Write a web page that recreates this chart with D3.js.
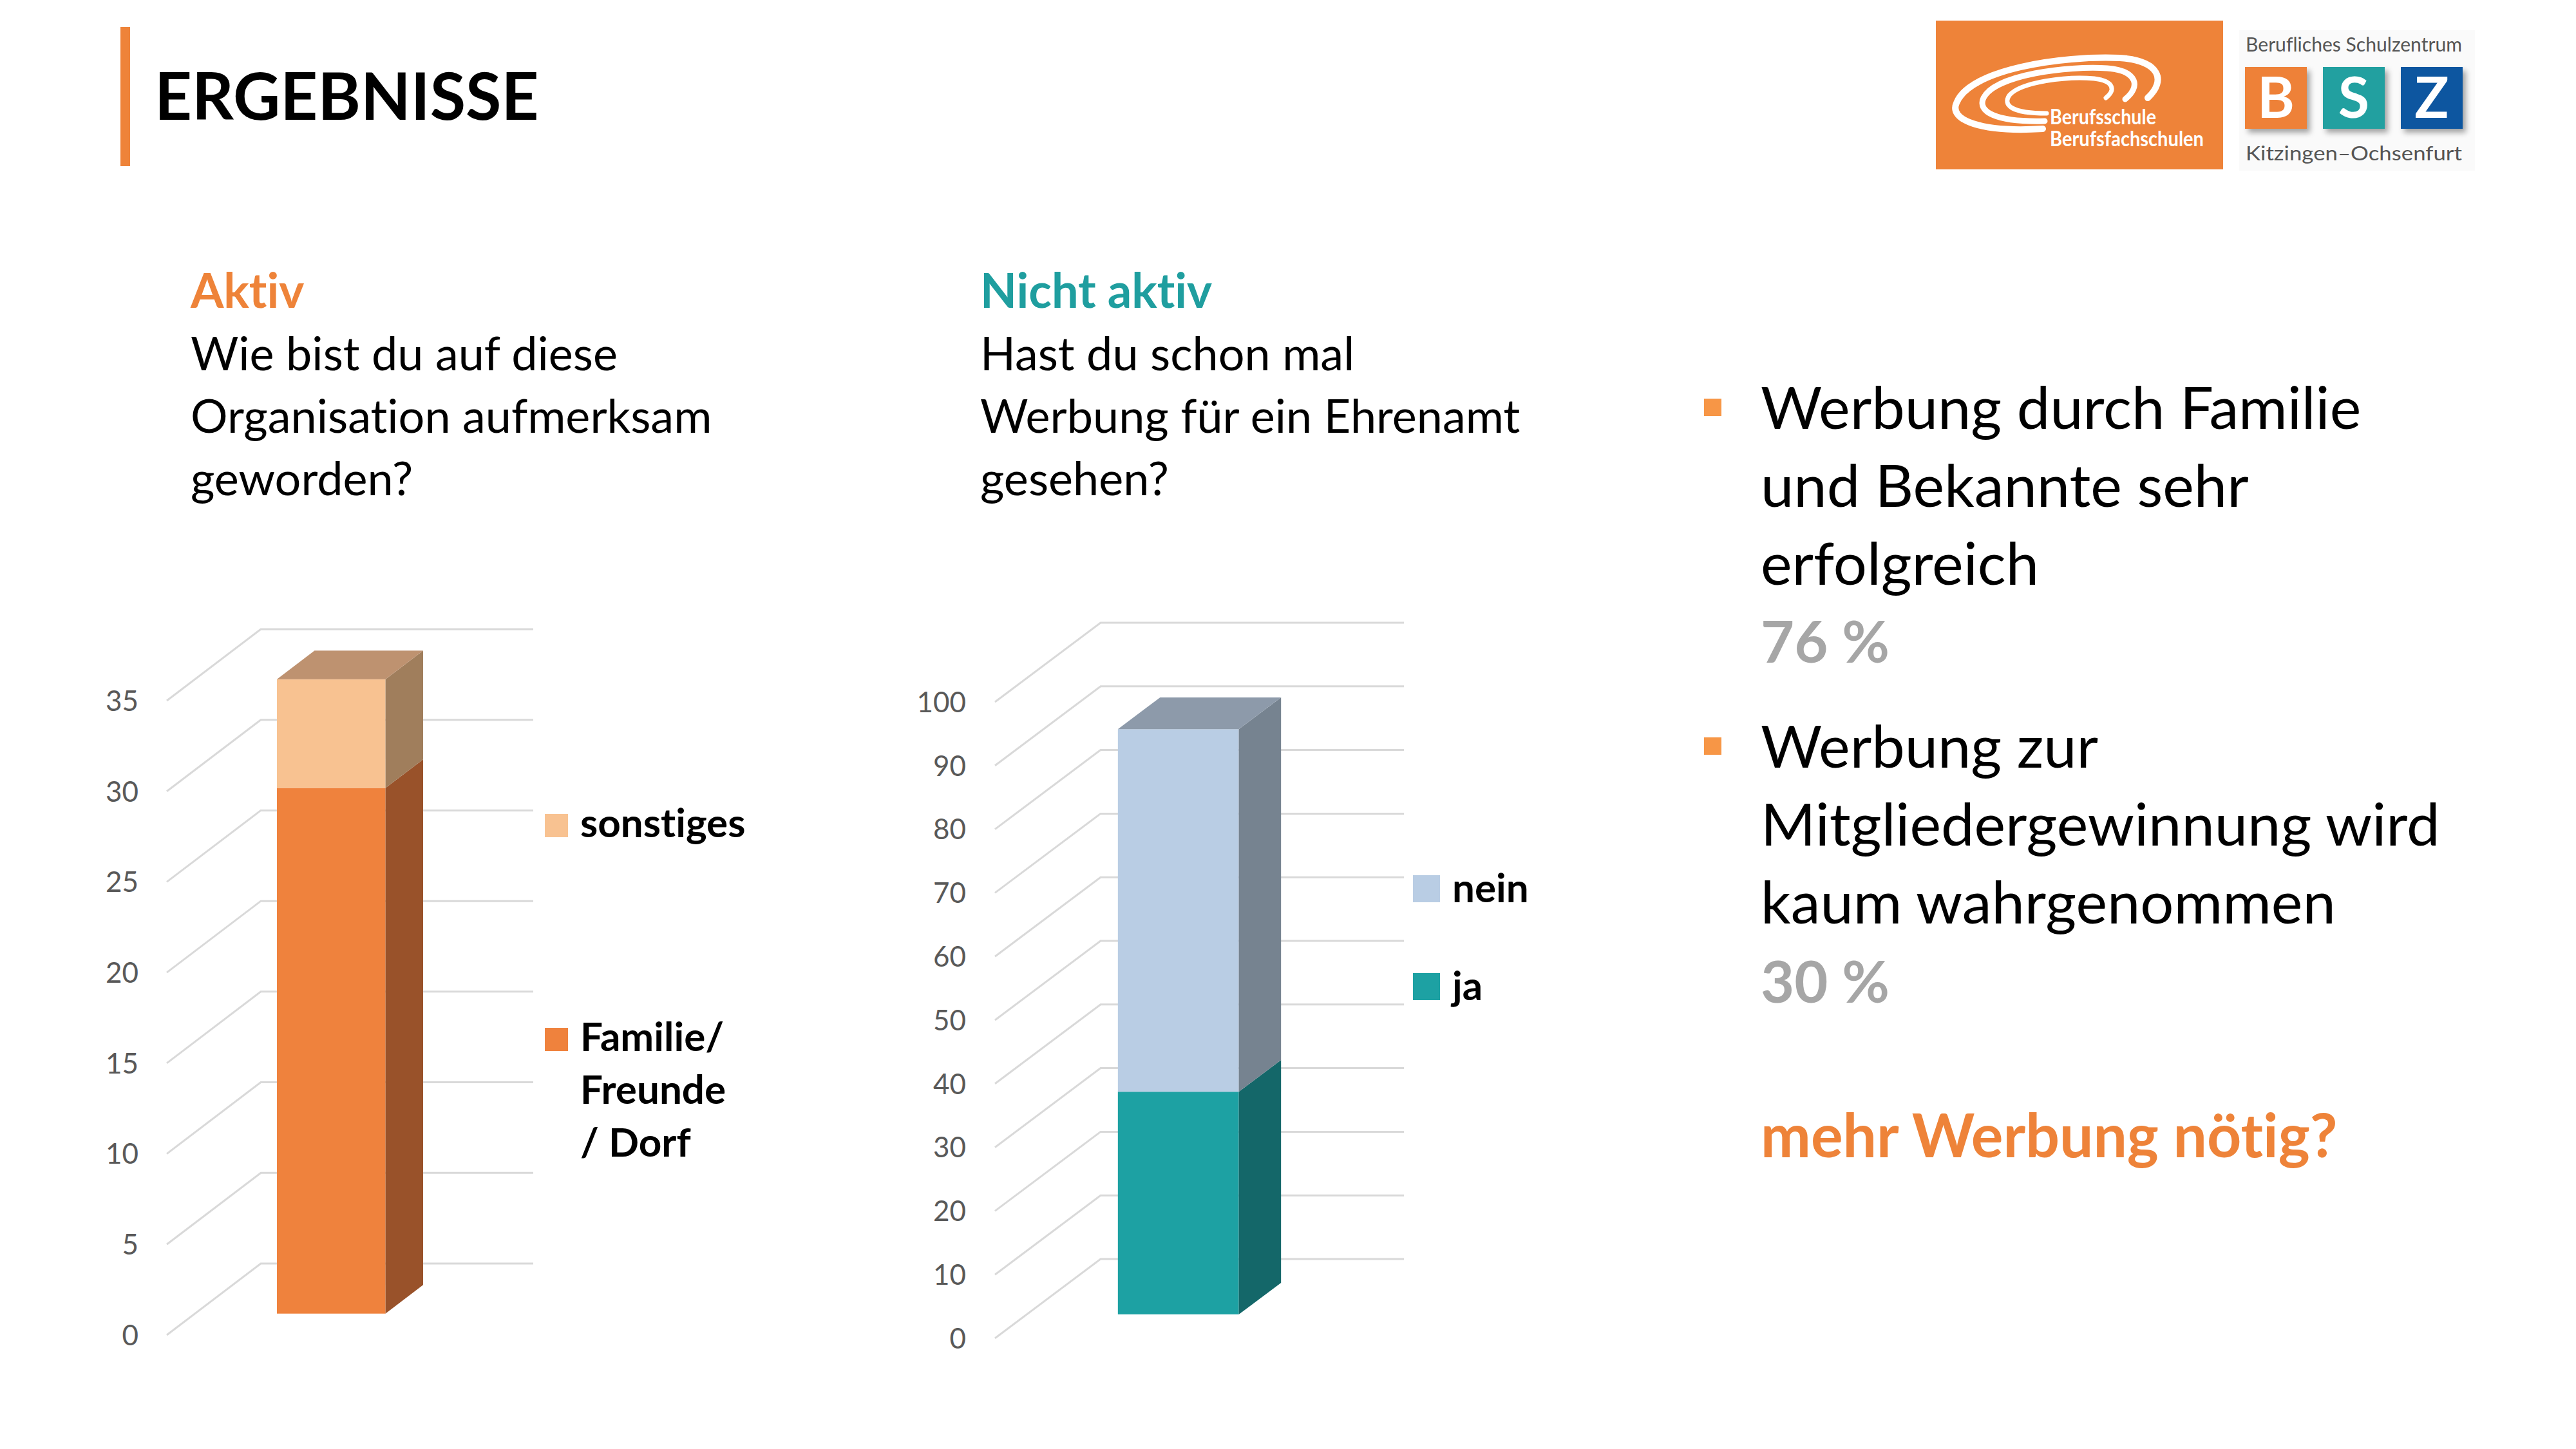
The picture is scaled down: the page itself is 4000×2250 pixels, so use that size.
<!DOCTYPE html>
<html>
<head>
<meta charset="utf-8">
<script src="https://cdn.jsdelivr.net/npm/d3@7"></script>
<style>
  body { margin: 0; background: #fff; }
  svg text { font-variant-ligatures: none; }
</style>
</head>
<body>
<script>
// survey values
const aktivKeys = ["Familie/ Freunde / Dorf", "sonstiges"];
const aktivValues = [29, 6];
const aktivTicks = [0, 5, 10, 15, 20, 25, 30, 35];
const aktivLegend = [["sonstiges"], ["Familie/", "Freunde", "/ Dorf"]];

const nichtKeys = ["ja", "nein"];
const nichtValues = [35, 57];
const nichtTicks = [0, 10, 20, 30, 40, 50, 60, 70, 80, 90, 100];
const nichtLegend = [["nein"], ["ja"]];

const aktivQuestion = ["Wie bist du auf diese", "Organisation aufmerksam", "geworden?"];
const nichtQuestion = ["Hast du schon mal", "Werbung für ein Ehrenamt", "gesehen?"];
const bullet1 = ["Werbung durch Familie", "und Bekannte sehr", "erfolgreich"];
const bullet2 = ["Werbung zur", "Mitgliedergewinnung wird", "kaum wahrgenommen"];
const percents = ["76 %", "30 %"];

const ORANGE = "#EE8339", TEAL = "#1F9E9F";
const FONT = "Lato, 'Open Sans', sans-serif";

var svg = d3.select("body").append("svg")
    .attr("width", 4000)
    .attr("height", 2250)
    .style("font-family", FONT);

// header
svg.append("rect").attr("x", 187).attr("y", 42).attr("width", 15).attr("height", 216).attr("fill", ORANGE);
svg.append("text").attr("x", 240).attr("y", 186).attr("font-size", 101).attr("font-weight", 700)
    .attr("fill", "#000").text("ERGEBNISSE");

var lines = function (x, y0, step, arr, size, color, weight) {
    arr.forEach(function (t, i) {
        svg.append("text").attr("x", x).attr("y", y0 + i * step)
            .attr("font-size", size).attr("font-weight", weight || 400)
            .attr("fill", color).text(t);
    });
};

// question headings
lines(296, 478, 97, ["Aktiv"], 74, ORANGE, 700);
lines(296, 575, 97, aktivQuestion, 72, "#000");
lines(1522, 478, 97, ["Nicht aktiv"], 74, TEAL, 700);
lines(1522, 575, 97, nichtQuestion, 72, "#000");

// right column
svg.append("rect").attr("x", 2646).attr("y", 619).attr("width", 27).attr("height", 27).attr("fill", "#F79646");
svg.append("rect").attr("x", 2646).attr("y", 1145).attr("width", 27).attr("height", 27).attr("fill", "#F79646");
lines(2734, 666, 121, bullet1, 92, "#000");
lines(2734, 1029, 121, [percents[0]], 90, "#A6A6A6", 700);
lines(2734, 1192, 121, bullet2, 92, "#000");
lines(2734, 1557, 121, [percents[1]], 90, "#A6A6A6", 700);
lines(2734, 1797, 121, ["mehr Werbung nötig?"], 93, ORANGE, 700);

// logos
var logo = svg.append("g");
logo.append("rect").attr("x", 3006).attr("y", 32).attr("width", 446).attr("height", 231).attr("fill", "#EE8339");
var swoosh = [
    "M3172,200 C3075,206 3026,186 3038,160 C3058,108 3200,86 3292,90 C3354,94 3364,125 3335,152",
    "M3175,188 C3098,190 3070,173 3080,152 C3098,116 3210,102 3272,106 C3320,110 3324,135 3300,154",
    "M3178,176 C3122,176 3110,163 3120,148 C3138,127 3210,118 3252,122 C3283,126 3285,140 3270,152"
];
logo.selectAll(".sw").data(swoosh).enter().append("path")
    .attr("d", function (d) { return d; })
    .attr("fill", "none").attr("stroke", "#fff")
    .attr("stroke-width", function (d, i) { return [10, 9, 7][i]; })
    .attr("stroke-linecap", "round");
logo.append("text").attr("x", 3183).attr("y", 193).attr("font-size", 32).attr("font-weight", 700)
    .attr("fill", "#fff").attr("textLength", 165).attr("lengthAdjust", "spacingAndGlyphs").text("Berufsschule");
logo.append("text").attr("x", 3183).attr("y", 227).attr("font-size", 32).attr("font-weight", 700)
    .attr("fill", "#fff").attr("textLength", 239).attr("lengthAdjust", "spacingAndGlyphs").text("Berufsfachschulen");

logo.append("rect").attr("x", 3477).attr("y", 47).attr("width", 366).attr("height", 218).attr("fill", "#FAFAFA");
logo.append("text").attr("x", 3487).attr("y", 80).attr("font-size", 30).attr("fill", "#555")
    .attr("textLength", 336).attr("lengthAdjust", "spacingAndGlyphs").text("Berufliches Schulzentrum");
logo.append("text").attr("x", 3487).attr("y", 249).attr("font-size", 30).attr("fill", "#555")
    .attr("textLength", 336).attr("lengthAdjust", "spacingAndGlyphs").text("Kitzingen–Ochsenfurt");
var defs = svg.append("defs");
defs.append("filter").attr("id", "sh").attr("x", "-20%").attr("y", "-20%").attr("width", "150%").attr("height", "150%")
    .append("feDropShadow").attr("dx", 5).attr("dy", 6).attr("stdDeviation", 4).attr("flood-color", "#000").attr("flood-opacity", 0.35);
[["B", "#EE8139", 3486], ["S", "#21A0A0", 3607], ["Z", "#0C56A0", 3728]].forEach(function (b) {
    logo.append("rect").attr("x", b[2]).attr("y", 104).attr("width", 96).attr("height", 96)
        .attr("fill", b[1]).attr("filter", "url(#sh)");
    logo.append("text").attr("x", b[2] + 48).attr("y", 183).attr("text-anchor", "middle")
        .attr("font-size", 88).attr("font-weight", 700).attr("fill", "#fff").text(b[0]);
});

// pseudo-3D stacked column (Excel style)
var chart3d = function (c) {
    var g = svg.append("g");
    var y = d3.scaleLinear().domain([0, c.max]).range([c.yBottom, c.yTop]);
    var x = d3.scaleBand().domain([c.name]).range([c.fx, c.backEnd - c.dx])
        .paddingInner(0.43).paddingOuter(0.43);

    g.selectAll(".grid").data(c.ticks).enter().append("path")
        .attr("d", function (t) {
            return "M" + c.fx + "," + y(t) + "L" + (c.fx + c.dx) + "," + (y(t) - c.dy) + "L" + c.backEnd + "," + (y(t) - c.dy);
        })
        .attr("fill", "none").attr("stroke", "#D9D9D9").attr("stroke-width", 3);

    g.selectAll(".tick").data(c.ticks).enter().append("text")
        .attr("x", c.labelX).attr("y", function (t) { return y(t); }).attr("dy", "0.36em")
        .attr("text-anchor", "end").attr("font-size", 44).attr("fill", "#595959")
        .text(function (t) { return t; });

    var row = { name: c.name };
    c.keys.forEach(function (k, i) { row[k] = c.values[i]; });
    var series = d3.stack().keys(c.keys)([row]);
    var bx = x(c.name), bw = x.bandwidth(), zf = 0.3, zb = 0.7;
    var P = function (px, v, z) { return [px + z * c.dx, y(v) - z * c.dy]; };
    var poly = function (pts, fill) {
        g.append("polygon").attr("points", pts.map(function (p) { return p.join(","); }).join(" ")).attr("fill", fill);
    };

    series.forEach(function (s, i) {
        var v0 = s[0][0], v1 = s[0][1], col = c.colors[i];
        poly([P(bx, v0, zf), P(bx + bw, v0, zf), P(bx + bw, v1, zf), P(bx, v1, zf)], col[0]);
        poly([P(bx + bw, v0, zf), P(bx + bw, v0, zb), P(bx + bw, v1, zb), P(bx + bw, v1, zf)], col[1]);
        if (i === series.length - 1) {
            poly([P(bx, v1, zf), P(bx, v1, zb), P(bx + bw, v1, zb), P(bx + bw, v1, zf)], col[2]);
        }
    });

    // legend, top entry = last series
    c.legend.forEach(function (lab, j) {
        var col = c.colors[c.keys.length - 1 - j][0];
        var ly = c.legendY[j];
        g.append("rect").attr("x", c.legendX).attr("y", ly - c.sq).attr("width", c.sq).attr("height", c.sq).attr("fill", col);
        lab.forEach(function (t, k) {
            g.append("text").attr("x", c.legendX + c.sq + 19).attr("y", ly + k * 82)
                .attr("font-size", 62).attr("font-weight", 700).attr("fill", "#000").text(t);
        });
    });
};

chart3d({
    name: "Aktiv", keys: aktivKeys, values: aktivValues, ticks: aktivTicks, max: 35,
    yBottom: 2073, yTop: 1088, fx: 259, dx: 146, dy: 111, backEnd: 828, labelX: 215,
    colors: [["#EF823D", "#99522A", "#99522A"], ["#F8C291", "#A07E5C", "#BE9270"]],
    legend: aktivLegend, legendX: 846, legendY: [1300, 1632], sq: 36
});

chart3d({
    name: "Nicht aktiv", keys: nichtKeys, values: nichtValues, ticks: nichtTicks, max: 100,
    yBottom: 2078, yTop: 1090, fx: 1545, dx: 164, dy: 123, backEnd: 2180, labelX: 1500,
    colors: [["#1DA1A3", "#146769", "#146769"], ["#B9CDE4", "#768390", "#8D9AAA"]],
    legend: nichtLegend, legendX: 2194, legendY: [1401, 1553], sq: 42
});
</script>
</body>
</html>
